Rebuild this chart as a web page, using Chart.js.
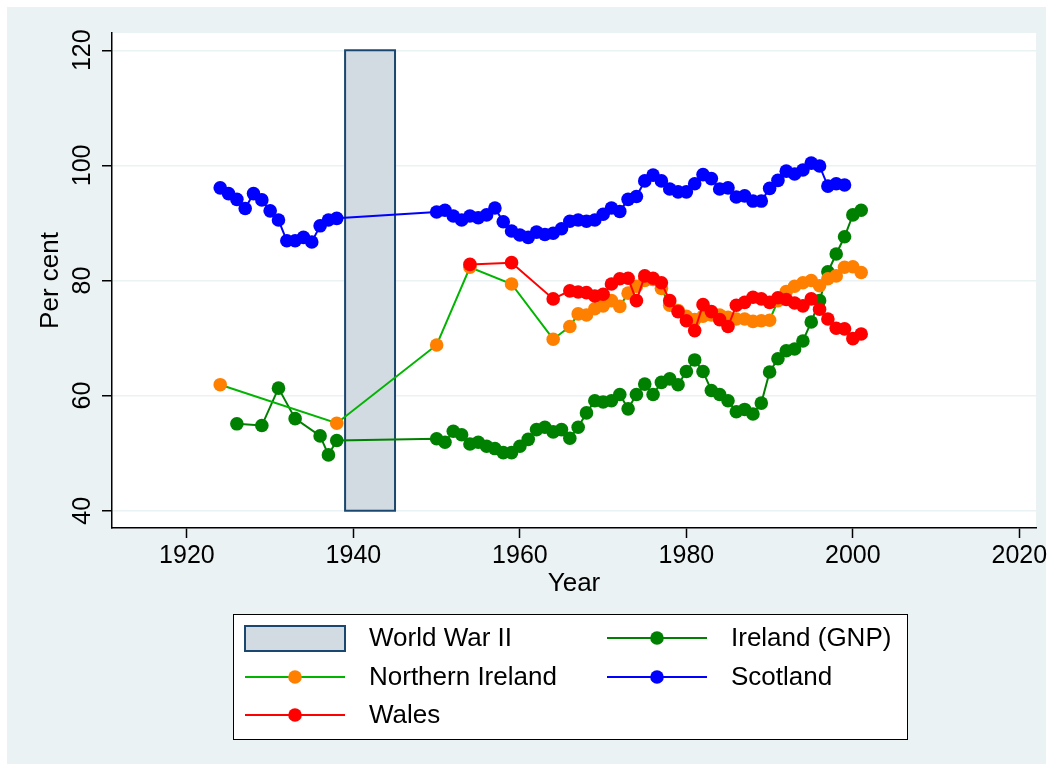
<!DOCTYPE html>
<html>
<head>
<meta charset="utf-8">
<script src="https://cdn.jsdelivr.net/npm/chart.js@4/dist/chart.umd.min.js"></script>
<style>
  html, body { margin: 0; padding: 0; background: #fff; }
  canvas { display: block; }
</style>
</head>
<body>
<canvas id="chart" width="1053" height="771"></canvas>
<script>
const xTicks = [1920, 1940, 1960, 1980, 2000, 2020]
const yTicks = [40, 60, 80, 100, 120]

// World War II band
const warYears = [1939, 1945]
const warRange = [40, 120]

const irelandYears = [1926, 1929, 1931, 1933, 1936, 1937, 1938,
  1950, 1951, 1952, 1953, 1954, 1955, 1956, 1957, 1958, 1959,
  1960, 1961, 1962, 1963, 1964, 1965, 1966, 1967, 1968, 1969,
  1970, 1971, 1972, 1973, 1974, 1975, 1976, 1977, 1978, 1979,
  1980, 1981, 1982, 1983, 1984, 1985, 1986, 1987, 1988, 1989,
  1990, 1991, 1992, 1993, 1994, 1995, 1996, 1997, 1998, 1999,
  2000, 2001]
const irelandValues = [55.1, 54.8, 61.3, 56.0, 53.0, 49.7, 52.2,
  52.5, 51.9, 53.8, 53.2, 51.6, 51.9, 51.2, 50.8, 50.1, 50.1,
  51.2, 52.4, 54.1, 54.5, 53.7, 54.1, 52.6, 54.5, 57.0, 59.1,
  58.9, 59.1, 60.2, 57.7, 60.2, 62.0, 60.2, 62.3, 62.9, 61.9,
  64.2, 66.2, 64.2, 60.9, 60.2, 59.1, 57.2, 57.6, 56.8, 58.7,
  64.1, 66.4, 67.8, 68.1, 69.5, 72.8, 76.5, 81.5, 84.6, 87.6,
  91.4, 92.2]

const niYears = [1924, 1938, 1950, 1954, 1959, 1964,
  1966, 1967, 1968, 1969,
  1970, 1971, 1972, 1973, 1974, 1975, 1976, 1977, 1978, 1979,
  1980, 1981, 1982, 1983, 1984, 1985, 1986, 1987, 1988, 1989,
  1990, 1991, 1992, 1993, 1994, 1995, 1996, 1997, 1998, 1999,
  2000, 2001]
const niValues = [61.9, 55.2, 68.8, 82.3, 79.4, 69.8,
  72.0, 74.2, 74.0, 75.1,
  75.6, 76.5, 75.5, 77.8, 79.0, 80.0, 80.2, 78.6, 75.7, 74.8,
  73.8, 73.2, 73.8, 74.0, 74.0, 73.6, 73.3, 73.3, 72.9, 73.0,
  73.1, 76.5, 78.1, 79.0, 79.6, 80.0, 79.1, 80.3, 80.8, 82.3,
  82.4, 81.4]

const scotlandYears = [1924, 1925, 1926, 1927, 1928, 1929, 1930, 1931, 1932, 1933,
  1934, 1935, 1936, 1937, 1938,
  1950, 1951, 1952, 1953, 1954, 1955, 1956, 1957, 1958, 1959,
  1960, 1961, 1962, 1963, 1964, 1965, 1966, 1967, 1968, 1969,
  1970, 1971, 1972, 1973, 1974, 1975, 1976, 1977, 1978, 1979,
  1980, 1981, 1982, 1983, 1984, 1985, 1986, 1987, 1988, 1989,
  1990, 1991, 1992, 1993, 1994, 1995, 1996, 1997, 1998, 1999]
const scotlandValues = [96.1, 95.1, 94.1, 92.5, 95.1, 94.0, 92.1, 90.5, 86.9, 86.9,
  87.5, 86.7, 89.5, 90.5, 90.8,
  91.9, 92.2, 91.2, 90.5, 91.2, 90.9, 91.4, 92.6, 90.2, 88.6,
  87.9, 87.5, 88.4, 88.0, 88.2, 89.0, 90.3, 90.5, 90.3, 90.5,
  91.5, 92.6, 92.0, 94.1, 94.6, 97.3, 98.3, 97.3, 95.9, 95.4,
  95.4, 96.8, 98.4, 97.7, 95.9, 96.1, 94.5, 94.7, 93.8, 93.8,
  96.0, 97.4, 99.0, 98.5, 99.2, 100.4, 99.9, 96.4, 96.8, 96.6]

const walesYears = [1954, 1959, 1964,
  1966, 1967, 1968, 1969,
  1970, 1971, 1972, 1973, 1974, 1975, 1976, 1977, 1978, 1979,
  1980, 1981, 1982, 1983, 1984, 1985, 1986, 1987, 1988, 1989,
  1990, 1991, 1992, 1993, 1994, 1995, 1996, 1997, 1998, 1999,
  2000, 2001]
const walesValues = [82.8, 83.1, 76.8,
  78.2, 78.0, 77.9, 77.3,
  77.6, 79.4, 80.3, 80.4, 76.5, 80.8, 80.4, 79.6, 76.5, 74.6,
  73.0, 71.3, 75.8, 74.6, 73.2, 72.0, 75.7, 76.2, 77.1, 76.8,
  76.2, 77.0, 76.7, 76.1, 75.6, 76.8, 75.0, 73.3, 71.7, 71.6,
  69.9, 70.7]

const FONT = "'Liberation Sans', Arial, Helvetica, sans-serif"
const BG = '#eaf2f3'

const toPoints = (xs, ys) => xs.map((x, i) => ({ x, y: ys[i] }))

const series = (label, xs, ys, line, marker, order) => ({
  label,
  data: toPoints(xs, ys),
  borderColor: line,
  backgroundColor: marker,
  pointBackgroundColor: marker,
  pointBorderWidth: 0,
  pointRadius: 6.8,
  borderWidth: 2,
  tension: 0,
  order
})

const datasets = [
  series('Ireland (GNP)', irelandYears, irelandValues, '#008000', '#008000', 4),
  series('Northern Ireland', niYears, niValues, '#00b400', '#ff8000', 3),
  series('Scotland', scotlandYears, scotlandValues, '#0000ff', '#0000ff', 2),
  series('Wales', walesYears, walesValues, '#ff0000', '#ff0000', 1)
]

const backdrop = {
  id: 'backdrop',
  beforeDraw(chart) {
    const { ctx, chartArea: a } = chart
    ctx.save()
    ctx.fillStyle = '#fff'
    ctx.fillRect(0, 0, chart.width, chart.height)
    ctx.fillStyle = BG
    ctx.fillRect(7, 7, chart.width - 14, chart.height - 14)
    ctx.fillStyle = '#fff'
    ctx.fillRect(a.left, a.top, a.right - a.left, a.bottom - a.top)
    ctx.restore()
  },
  beforeDatasetsDraw(chart) {
    const { ctx, scales: { x, y } } = chart
    const x0 = x.getPixelForValue(warYears[0])
    const x1 = x.getPixelForValue(warYears[1])
    const y0 = y.getPixelForValue(warRange[1])
    const y1 = y.getPixelForValue(warRange[0])
    ctx.save()
    ctx.fillStyle = '#d2dae2'
    ctx.fillRect(x0, y0, x1 - x0, y1 - y0)
    ctx.strokeStyle = '#1a476f'
    ctx.lineWidth = 2
    ctx.strokeRect(x0, y0, x1 - x0, y1 - y0)
    ctx.restore()
  }
}

// stata style legend box under the plot
const stataLegend = {
  id: 'stataLegend',
  afterDraw(chart) {
    const ctx = chart.ctx
    const cols = [245, 607]
    const rows = [638, 677, 715]
    const byLabel = l => chart.data.datasets.find(d => d.label === l)
    const keys = [
      { label: 'World War II', col: 0, row: 0 },
      { label: 'Ireland (GNP)', col: 1, row: 0 },
      { label: 'Northern Ireland', col: 0, row: 1 },
      { label: 'Scotland', col: 1, row: 1 },
      { label: 'Wales', col: 0, row: 2 }
    ]
    ctx.save()
    ctx.fillStyle = '#fff'
    ctx.fillRect(233.5, 614.5, 674, 125)
    ctx.strokeStyle = '#000'
    ctx.lineWidth = 1
    ctx.strokeRect(233.5, 614.5, 674, 125)
    ctx.font = '26px ' + FONT
    ctx.textBaseline = 'middle'
    ctx.textAlign = 'left'
    keys.forEach(k => {
      const x = cols[k.col]
      const y = rows[k.row]
      const ds = byLabel(k.label)
      if (!ds) {
        ctx.fillStyle = '#d2dae2'
        ctx.fillRect(x, y - 12, 100, 25)
        ctx.strokeStyle = '#1a476f'
        ctx.lineWidth = 2
        ctx.strokeRect(x, y - 12, 100, 25)
      } else {
        ctx.strokeStyle = ds.borderColor
        ctx.lineWidth = 2
        ctx.beginPath()
        ctx.moveTo(x, y)
        ctx.lineTo(x + 100, y)
        ctx.stroke()
        ctx.fillStyle = ds.pointBackgroundColor
        ctx.beginPath()
        ctx.arc(x + 50, y, 6.8, 0, Math.PI * 2)
        ctx.fill()
      }
      ctx.fillStyle = '#000'
      ctx.fillText(k.label, x + 124, y + 1)
    })
    ctx.restore()
  }
}

Chart.defaults.font.family = FONT
Chart.defaults.color = '#000'

new Chart(document.getElementById('chart'), {
  type: 'line',
  data: { datasets },
  options: {
    responsive: false,
    animation: false,
    devicePixelRatio: 1,
    layout: { padding: { left: 0, top: 33, right: 17, bottom: 171 } },
    plugins: { legend: { display: false }, tooltip: { enabled: false } },
    scales: {
      x: {
        type: 'linear',
        min: 1911,
        max: 2022,
        afterBuildTicks: s => { s.ticks = xTicks.map(v => ({ value: v })) },
        afterFit: s => { s.height = 72 },
        grid: { drawOnChartArea: false, tickLength: 10, tickColor: '#000', tickWidth: 1.5 },
        border: { color: '#000', width: 1.5 },
        ticks: { color: '#000', font: { size: 25 }, padding: 3, maxRotation: 0, callback: v => String(v) },
        title: { display: true, text: 'Year', color: '#000', font: { size: 26 }, padding: { top: 0, bottom: 1 } }
      },
      y: {
        type: 'linear',
        min: 37,
        max: 123,
        afterBuildTicks: s => { s.ticks = yTicks.map(v => ({ value: v })) },
        afterFit: s => { s.width = 112 },
        grid: { color: BG, lineWidth: 1.5, tickLength: 10, tickColor: '#000', tickWidth: 1.5 },
        border: { color: '#000', width: 1.5 },
        ticks: { color: '#000', font: { size: 25 }, padding: -2, minRotation: 90, maxRotation: 90, crossAlign: 'center', callback: v => String(v) },
        title: { display: true, text: 'Per cent', color: '#000', font: { size: 26 }, padding: { top: 35, bottom: 0 } }
      }
    }
  },
  plugins: [backdrop, stataLegend]
})
</script>
</body>
</html>
